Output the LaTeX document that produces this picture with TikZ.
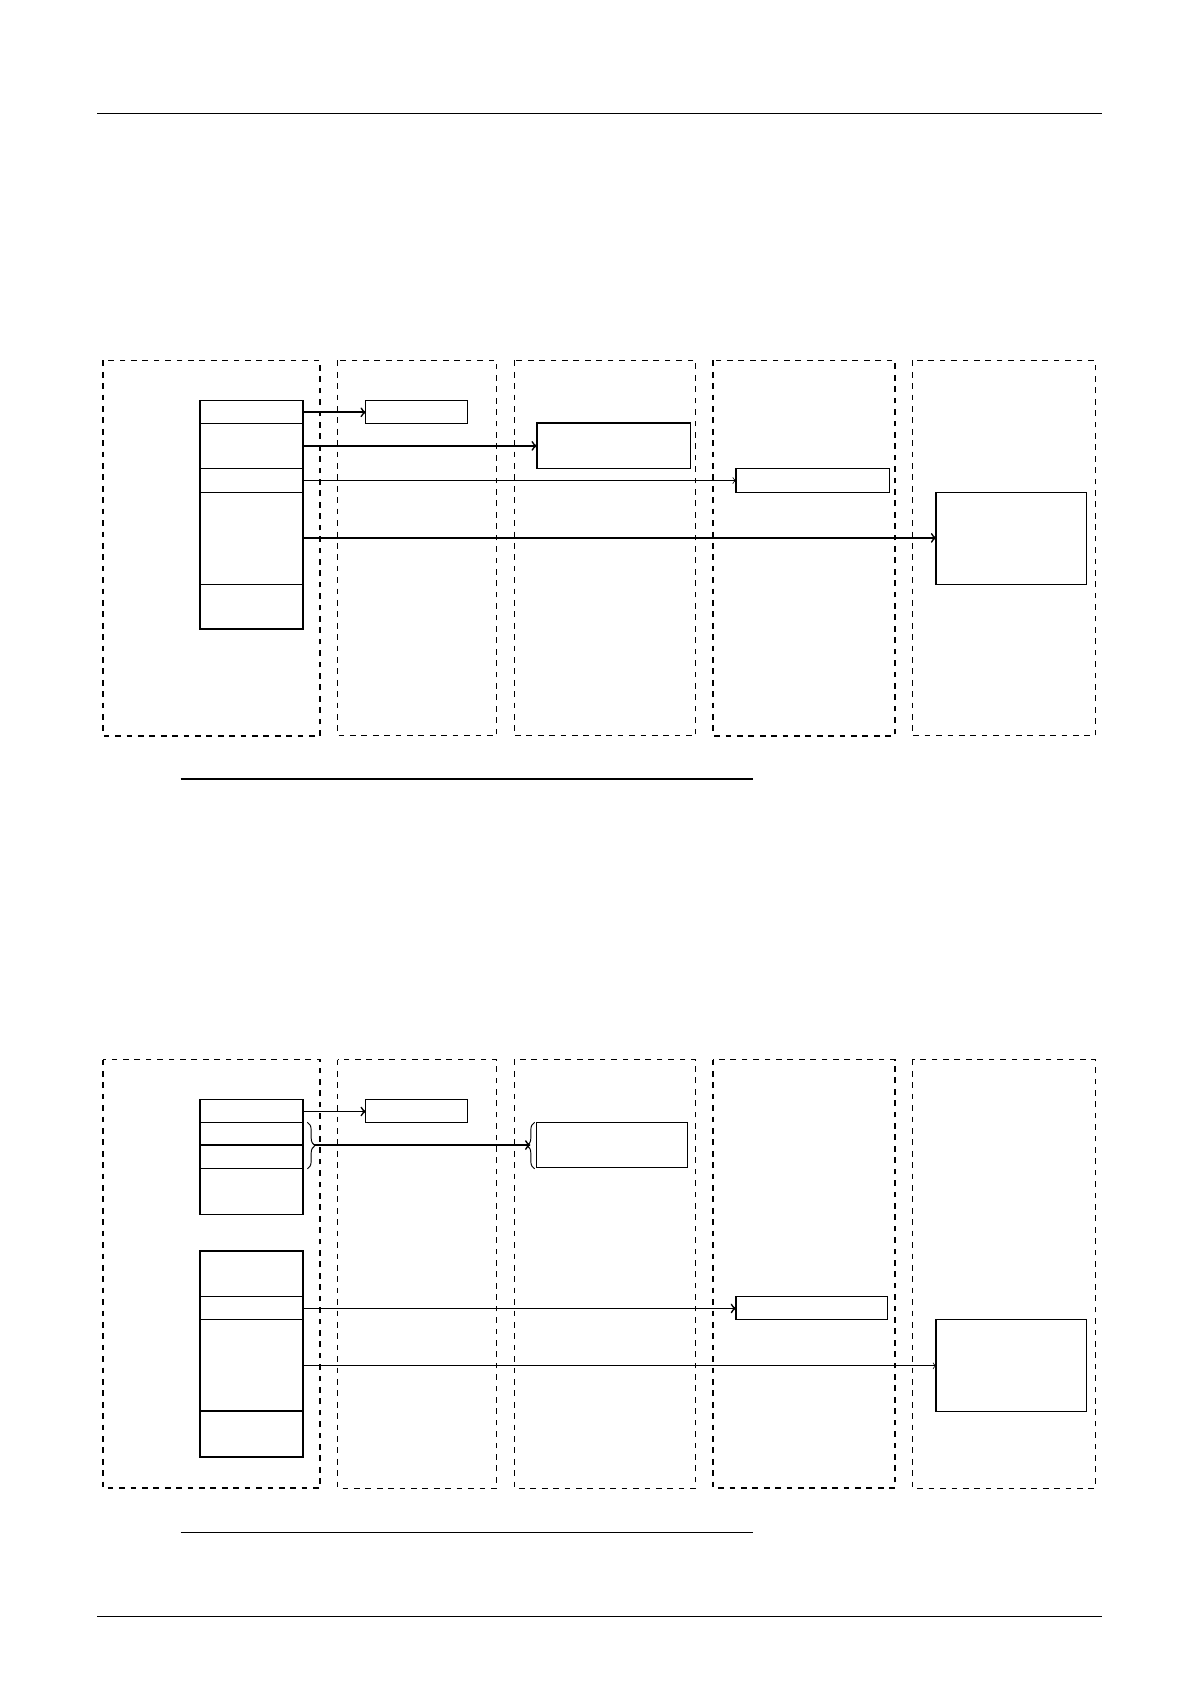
\documentclass[tikz,border=0pt]{standalone}
\usetikzlibrary{decorations.pathreplacing}
\begin{document}
\begin{tikzpicture}[x=0.02cm,y=-0.02cm,
 dthick/.style={draw,dashed,line width=0.9pt},
 dthin/.style={draw,dashed,line width=0.5pt},
 bx/.style={draw,line width=0.8pt},
 ar/.style={->,line width=0.9pt},
 art/.style={->,line width=0.4pt}]
\useasboundingbox (0,0) rectangle (1100,1556);
\draw[line width=0.6pt] (90,105) -- (1018,105);
\draw[line width=0.6pt] (90,1494) -- (1018,1494);
\foreach \ya/\yb in {333/680,979/1375}{
 \draw[dthick] (95,\ya) rectangle (296,\yb);
 \draw[dthin] (312,\ya) rectangle (459,\yb);
 \draw[dthin] (475,\ya) rectangle (643,\yb);
 \draw[dthick] (659,\ya) rectangle (827,\yb);
 \draw[dthin] (843,\ya) rectangle (1012,\yb);
}
% top
\draw[bx] (185,370) rectangle (280,581);
\draw[line width=0.4pt] (185,391)--(280,391) (185,455)--(280,455);
\draw[line width=0.9pt] (185,433)--(280,433) (185,540)--(280,540);
\draw[line width=0.6pt] (338,370) rectangle (432,391);
\draw[bx] (496,391) rectangle (638,433);
\draw[line width=0.6pt] (680,433) rectangle (822,455);
\draw[bx] (865,455) rectangle (1004,540);
\draw[ar] (280,381)--(338,381);
\draw[ar] (280,412)--(496,412);
\draw[art] (280,444)--(680,444);
\draw[ar] (280,497)--(865,497);
\draw[line width=0.8pt] (167,720)--(696,720);
% bottom
\draw[bx] (185,1016) rectangle (280,1122);
\draw[line width=0.4pt] (185,1037)--(280,1037) (185,1080)--(280,1080);
\draw[line width=0.9pt] (185,1058)--(280,1058);
\draw[line width=0.6pt] (338,1016) rectangle (432,1037);
\draw[line width=0.6pt] (496,1037) rectangle (635,1079);
\draw[ar] (280,1027)--(338,1027);
\draw[decorate,decoration={brace,amplitude=4pt},line width=0.5pt] (284,1037)--(284,1080);
\draw[decorate,decoration={brace,amplitude=4pt},line width=0.5pt] (494,1080)--(494,1037);
\draw[ar] (290,1058)--(490,1058);
\draw[bx] (185,1156) rectangle (280,1346);
\draw[line width=0.9pt] (185,1198)--(280,1198) (185,1304)--(280,1304);
\draw[line width=0.4pt] (185,1219)--(280,1219);
\draw[line width=0.6pt] (680,1198) rectangle (820,1219);
\draw[bx] (865,1219) rectangle (1004,1304);
\draw[ar] (280,1209)--(680,1209);
\draw[art] (280,1262)--(865,1262);
\draw[line width=0.8pt] (167,1416)--(696,1416);
\end{tikzpicture}
\end{document}
